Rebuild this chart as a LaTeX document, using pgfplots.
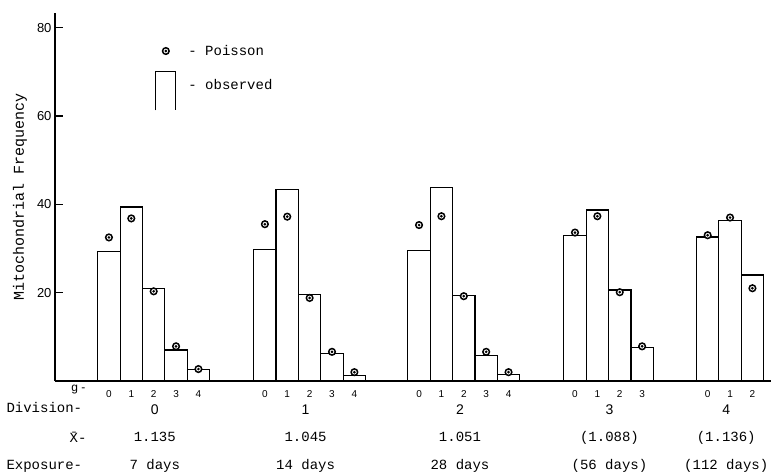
\documentclass[border=0pt]{standalone}
\usepackage{fontspec}
\setmonofont{Liberation Mono}
\setsansfont{Liberation Sans}
\usepackage{pgfplots}
\usepackage{pgfplotstable}
\pgfplotsset{compat=1.18}

% circle with a dot in the middle, for the Poisson values
\pgfdeclareplotmark{odotm}{%
  \pgfpathcircle{\pgfpointorigin}{\pgfplotmarksize}%
  \pgfusepathqfillstroke
  \begin{pgfscope}%
    \pgfsetfillcolor{black}%
    \pgfpathcircle{\pgfpointorigin}{0.45\pgfplotmarksize}%
    \pgfusepathqfill
  \end{pgfscope}%
}

\newcommand{\mono}{\ttfamily\fontsize{14}{16}\selectfont}
\newcommand{\divn}{\sffamily\fontsize{14}{16}\selectfont}
\newcommand{\rowtxt}[1]{{\mono\vphantom{(}#1}}

% observed frequencies (bars), x = bar centre
\pgfplotstableread{
x     y
2.41  29.4
3.41  39.4
4.41  21.0
5.41  7.0
6.41  2.6
9.38  29.8
10.38 43.4
11.38 19.5
12.38 6.2
13.38 1.2
16.27 29.6
17.27 43.8
18.27 19.3
19.27 5.8
20.27 1.4
23.24 33.0
24.24 38.7
25.24 20.6
26.24 7.5
29.17 32.6
30.17 36.4
31.17 24.0
}\observed

% Poisson expectations
\pgfplotstableread{
x     y
2.41  32.5
3.41  36.8
4.41  20.3
5.41  7.85
6.41  2.7
9.38  35.5
10.38 37.2
11.38 18.8
12.38 6.6
13.38 2.0
16.27 35.3
17.27 37.3
18.27 19.2
19.27 6.6
20.27 2.0
23.24 33.6
24.24 37.3
25.24 20.1
26.24 7.85
29.17 33.0
30.17 37.0
31.17 21.0
}\poisson

\begin{document}
\begin{tikzpicture}
\path[use as bounding box] (0,0) rectangle (774pt,474pt);
\begin{axis}[
    at={(55pt,93pt)}, anchor=south west,
    scale only axis,
    width=716pt, height=368pt,
    xmin=0, xmax=32,
    ymin=0, ymax=83.3,
    axis x line=bottom, axis y line=left,
    axis line style={-, line width=1.3pt},
    ytick={20,40,60,80},
    yticklabels={20,40,60,80},
    ytick align=inside,
    major tick length=8pt,
    y tick style={line width=1.2pt, black},
    yticklabel style={font=\sffamily\fontsize{13}{15}\selectfont},
    xtick={2.41,3.41,4.41,5.41,6.41,9.38,10.38,11.38,12.38,13.38,
           16.27,17.27,18.27,19.27,20.27,23.24,24.24,25.24,26.24,
           29.17,30.17,31.17},
    xticklabels={0,1,2,3,4,0,1,2,3,4,0,1,2,3,4,0,1,2,3,0,1,2},
    x tick style={draw=none},
    xticklabel style={font=\sffamily\fontsize{10}{11}\selectfont, yshift=-2pt},
    extra x ticks={4.46,11.2,18.1,24.78,30.0},
    extra x tick labels={
      {{\divn 0}\\[16pt]\rowtxt{1.135}\\[14pt]\rowtxt{7 days}},
      {{\divn 1}\\[16pt]\rowtxt{1.045}\\[14pt]\rowtxt{14 days}},
      {{\divn 2}\\[16pt]\rowtxt{1.051}\\[14pt]\rowtxt{28 days}},
      {{\divn 3}\\[16pt]\rowtxt{(1.088)}\\[14pt]\rowtxt{(56 days)}},
      {{\divn 4}\\[16pt]\rowtxt{(1.136)}\\[14pt]\rowtxt{(112 days)}}},
    extra x tick style={
      tick style={draw=none},
      tick label style={align=center, font=\mono, yshift=-14pt}},
    ylabel={Mitochondrial Frequency},
    every axis y label/.style={at={(rel axis cs:0,0.5)}, xshift=-35pt, rotate=90,
      anchor=center, font=\ttfamily\fontsize{15}{16}\selectfont},
    legend style={at={(rel axis cs:0,1)}, anchor=north west,
      xshift=97pt, yshift=-28pt, draw=none, fill=none,
      font=\mono, row sep=12pt,
      /tikz/every odd column/.append style={column sep=10pt}},
    legend cell align=left,
]
\addlegendimage{only marks, mark=odotm, mark size=3.3pt,
  mark options={fill=white, draw=black, line width=1.5pt}}
\addlegendentry{- Poisson}
\addlegendimage{legend image code/.code={
  \draw[line width=1.2pt] (-1.5pt,-25pt) -- (-1.5pt,14pt) -- (18.5pt,14pt) -- (18.5pt,-25pt);}}
\addlegendentry{- observed}

\addplot[ybar, bar width=1, draw=black, fill=white, line width=1.2pt, forget plot]
  table[x=x, y=y] {\observed};
\addplot[only marks, mark=odotm, mark size=3.3pt,
  mark options={fill=white, draw=black, line width=1.5pt}, forget plot]
  table[x=x, y=y] {\poisson};
\end{axis}
\node[anchor=base west, font=\mono] at (3pt,61pt) {Division-};
\node[anchor=base east, font=\mono] at (90pt,31pt) {\=X-};
\node[anchor=base west, font=\mono] at (3pt,5pt) {Exposure-};
\node[anchor=base east, font=\sffamily\fontsize{12}{14}\selectfont] at (89pt,82pt) {g -};
\end{tikzpicture}
\end{document}
